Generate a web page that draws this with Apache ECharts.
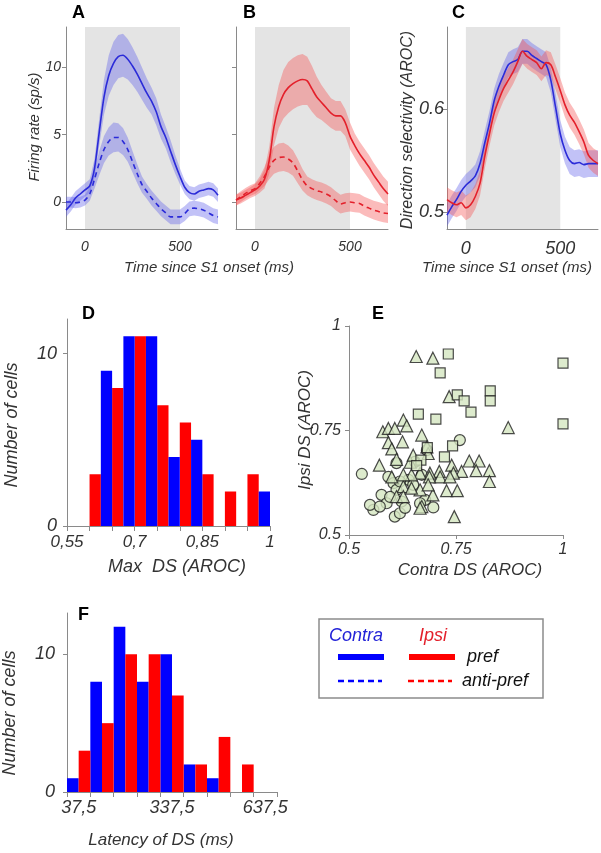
<!DOCTYPE html>
<html><head><meta charset="utf-8">
<script src="https://cdn.jsdelivr.net/npm/echarts@6/dist/echarts.min.js"></script>
<style>html,body{margin:0;padding:0;background:#fff}#c{width:601px;height:853px}</style>
</head><body><div id="c"></div>
<script>
// ---------- DATA ----------
const times = [-100,-75,-50,-25,0,25,50,75,100,125,150,175,200,225,250,275,300,325,350,375,400,425,450,475,500,525,550,575,600,625,650,675,700];

// Panel A (contra) firing rate
const aPrefMean = [-0.6,-0.2,0.3,0.6,0.9,1.2,2.5,5.2,7.8,9.4,10.3,10.8,10.9,10.6,10.1,9.5,8.8,8.1,7.5,6.7,5.6,4.8,3.8,2.8,1.9,1.1,0.7,0.6,0.8,0.9,1.0,0.9,0.5];
const aPrefSem  = [0.5,0.5,0.5,0.5,0.5,0.5,0.7,1.0,1.3,1.5,1.6,1.6,1.6,1.5,1.4,1.3,1.2,1.1,1.0,1.0,0.9,0.8,0.8,0.7,0.6,0.5,0.5,0.5,0.5,0.5,0.5,0.5,0.5];
const aAntiMean = [0.0,0.0,-0.05,0.0,0.15,0.6,1.7,2.9,3.9,4.5,4.8,4.8,4.5,3.9,3.0,2.1,1.3,0.8,0.3,-0.1,-0.5,-0.8,-1.1,-1.1,-1.1,-0.85,-0.5,-0.45,-0.5,-0.6,-0.8,-1.0,-1.1];
const aAntiSem  = [0.4,0.4,0.4,0.4,0.4,0.5,0.7,0.9,1.0,1.05,1.1,1.05,1.0,0.9,0.8,0.7,0.6,0.55,0.55,0.55,0.55,0.55,0.55,0.55,0.55,0.55,0.55,0.55,0.55,0.55,0.55,0.55,0.55];

// Panel B (ipsi) firing rate
const bPrefMean = [0.15,0.3,0.5,0.7,0.9,1.2,1.7,3.1,5.6,7.1,8.0,8.5,8.8,9.0,9.1,9.0,8.4,7.8,7.4,7.0,6.6,6.4,6.4,5.9,4.9,4.2,3.6,3.1,2.6,2.0,1.5,1.0,0.6];
const bPrefSem  = [0.4,0.4,0.4,0.4,0.45,0.5,0.7,1.0,1.4,1.6,1.8,1.9,1.9,1.9,1.9,1.8,1.7,1.5,1.3,1.2,1.1,1.1,1.1,1.0,1.0,0.9,0.9,0.9,0.9,0.9,0.9,0.9,0.9];
const bAntiMean = [0.15,0.4,0.65,0.85,1.0,1.4,1.9,2.6,3.1,3.3,3.35,3.2,2.9,2.3,1.65,1.2,1.0,0.85,0.75,0.6,0.4,0.1,-0.15,-0.05,0.0,-0.05,-0.1,-0.3,-0.45,-0.6,-0.7,-0.8,-0.85];
const bAntiSem  = [0.4,0.4,0.4,0.4,0.4,0.5,0.7,0.9,1.0,1.05,1.05,1.0,0.95,0.9,0.8,0.7,0.7,0.7,0.7,0.7,0.7,0.7,0.7,0.7,0.7,0.7,0.7,0.7,0.7,0.7,0.7,0.7,0.7];

// Panel C direction selectivity
const cContraMean = [0.497,0.505,0.512,0.52,0.526,0.530,0.535,0.547,0.567,0.586,0.608,0.622,0.633,0.643,0.646,0.648,0.656,0.656,0.652,0.649,0.646,0.643,0.628,0.602,0.576,0.560,0.550,0.547,0.548,0.546,0.547,0.547,0.547];
const cContraSem  = [0.011,0.011,0.011,0.011,0.011,0.011,0.011,0.012,0.012,0.012,0.012,0.012,0.012,0.012,0.012,0.012,0.012,0.012,0.012,0.012,0.012,0.012,0.012,0.013,0.013,0.013,0.013,0.013,0.013,0.013,0.013,0.013,0.013];
const cIpsiMean   = [0.512,0.509,0.507,0.509,0.504,0.507,0.515,0.528,0.554,0.576,0.596,0.609,0.620,0.628,0.636,0.646,0.656,0.651,0.648,0.645,0.639,0.645,0.643,0.631,0.618,0.604,0.594,0.587,0.578,0.568,0.555,0.550,0.547];
const cIpsiSem    = [0.012,0.012,0.012,0.012,0.012,0.012,0.012,0.012,0.012,0.012,0.012,0.012,0.012,0.012,0.012,0.012,0.012,0.012,0.012,0.012,0.012,0.012,0.012,0.012,0.012,0.012,0.012,0.012,0.012,0.012,0.012,0.012,0.012];

// Panel D histogram (Max DS)
const dBins = ['0.575','0.625','0.675','0.725','0.775','0.825','0.875','0.925','0.975'];
const dIpsi   = [0,3,8,11,7,6,3,2,3];
const dContra = [0,9,11,11,4,5,0,0,2];
const dTicks  = [0.55,0.6,0.65,0.7,0.75,0.8,0.85,0.9,0.95,1.0];
const dLabels = [0.55,0.7,0.85,1.0];

// Panel E scatter
const eCircles = [[0.530,0.646],[0.759,0.727],[0.557,0.560],[0.549,0.572],[0.576,0.596],[0.588,0.576],[0.572,0.568],[0.607,0.544],[0.619,0.552],[0.697,0.566],[0.592,0.639],[0.604,0.624],[0.611,0.608],[0.623,0.580],[0.639,0.632],[0.650,0.620],[0.678,0.584],[0.666,0.576],[0.611,0.672],[0.619,0.628],[0.682,0.703],[0.654,0.675],[0.670,0.644],[0.596,0.591],[0.631,0.565]];
const eTriangles = [[0.657,0.927],[0.696,0.923],[0.734,0.831],[0.872,0.757],[0.627,0.775],[0.635,0.761],[0.579,0.747],[0.592,0.755],[0.607,0.755],[0.670,0.739],[0.592,0.721],[0.625,0.723],[0.600,0.706],[0.682,0.711],[0.685,0.695],[0.571,0.667],[0.611,0.681],[0.643,0.674],[0.650,0.691],[0.740,0.667],[0.781,0.677],[0.804,0.677],[0.763,0.652],[0.797,0.654],[0.828,0.654],[0.828,0.628],[0.711,0.652],[0.744,0.648],[0.689,0.648],[0.666,0.648],[0.728,0.606],[0.753,0.606],[0.746,0.544],[0.713,0.639],[0.688,0.639],[0.666,0.608],[0.670,0.568],[0.696,0.596],[0.685,0.620],[0.646,0.644],[0.627,0.616],[0.627,0.644],[0.600,0.639],[0.611,0.592],[0.627,0.592],[0.736,0.639],[0.666,0.564],[0.646,0.612]];
const eSquares = [[0.732,0.933],[0.713,0.888],[1.0,0.911],[1.0,0.766],[0.753,0.835],[0.769,0.821],[0.785,0.794],[0.830,0.845],[0.830,0.821],[0.662,0.789],[0.703,0.777],[0.683,0.709],[0.742,0.713],[0.723,0.687],[0.668,0.679],[0.658,0.666]];
const eTicks = [0.5,0.75,1];

// Panel F histogram (latency)
const fBins = ['37,5','112,5','187,5','262,5','337,5','412,5','487,5','562,5','637,5'];
const fContra = [1,8,12,8,10,2,1,0,0];
const fIpsi   = [3,5,10,10,7,2,4,2,0];

// ---------- STYLE ----------
const FF = '"Liberation Sans", Arial, sans-serif';
const BLUE = '#2b2bd8', RED = '#e3202b';
const BLUE_BAND = 'rgba(95,95,235,0.38)', RED_BAND = 'rgba(245,85,85,0.40)';
const AX = '#8a8a8a', TXT = '#333';
const pair = (ys) => times.map((t, i) => [t, ys[i]]);

function band(gi, mean, sem, col) {
  return {type:'custom', coordinateSystem:'cartesian2d', xAxisIndex:gi, yAxisIndex:gi,
    data:[[times[0], mean[0]]], z:2, silent:true,
    renderItem:(params, api) => {
      const up = times.map((t, i) => api.coord([t, mean[i] + sem[i]]));
      const lo = times.map((t, i) => api.coord([t, mean[i] - sem[i]])).reverse();
      return {type:'polygon', shape:{points: up.concat(lo)}, style:{fill: col}};
    }};
}
function line(gi, mean, col, dashed) {
  return {type:'line', xAxisIndex:gi, yAxisIndex:gi, data:pair(mean), smooth:0.3, symbol:'none', z:3, silent:true,
    lineStyle:{color:col, width:1.6, type: dashed ? [5,4] : 'solid'}};
}
function shade(gi) {
  return {type:'line', xAxisIndex:gi, yAxisIndex:gi, data:[], z:1, silent:true,
    markArea:{silent:true, itemStyle:{color:'#e4e4e4'}, data:[[{xAxis:0},{xAxis:500}]]}};
}
function timeX(gi, fs) {
  return {type:'value', gridIndex:gi, min:-100, max:700,
    axisLine:{onZero:false, lineStyle:{color:AX}}, axisTick:{show:false},
    splitLine:{show:false},
    axisLabel:{customValues:[0,500], color:TXT, fontStyle:'italic', fontSize:fs, fontFamily:FF, margin:11}};
}
function valY(gi, min, max, vals, showLab, fs, margin) {
  return {type:'value', gridIndex:gi, min, max,
    axisLine:{show:true, onZero:false, lineStyle:{color:AX}},
    axisTick:{show:true, length:4, customValues:vals, lineStyle:{color:AX}},
    splitLine:{show:false},
    axisLabel:{show:showLab, customValues:vals, color:TXT, fontStyle:'italic', fontSize:fs, fontFamily:FF, margin}};
}
const comma = v => String(+(+v).toFixed(2)).replace('.', ',');
const MARK = {color:'#d5e6c1', borderColor:'#1e1e1e', borderWidth:1.2};

const option = {
  animation:false,
  backgroundColor:'#fff',
  grid:[
    {left:66, top:27, width:152, height:202},
    {left:236, top:27, width:152, height:202},
    {left:447, top:27, width:151, height:202},
    {left:67, top:319, width:203, height:207},
    {left:349, top:326, width:214, height:209},
    {left:67, top:613, width:210, height:179}
  ],
  xAxis:[
    timeX(0,14), timeX(1,14), timeX(2,18),
    {type:'value', gridIndex:3, min:0.55, max:1.0,
      axisLine:{onZero:false, lineStyle:{color:AX}}, splitLine:{show:false},
      axisTick:{show:true, length:5, customValues:dTicks, lineStyle:{color:AX}},
      axisLabel:{customValues:dLabels, formatter:comma, color:TXT, fontStyle:'italic', fontSize:17, fontFamily:FF, margin:8}},
    {type:'category', gridIndex:3, data:dBins, show:false, boundaryGap:true},
    {type:'value', gridIndex:4, min:0.5, max:1,
      axisLine:{onZero:false, lineStyle:{color:AX}}, splitLine:{show:false},
      axisTick:{show:true, length:4, customValues:eTicks, lineStyle:{color:AX}},
      axisLabel:{customValues:eTicks, color:TXT, fontStyle:'italic', fontSize:16, fontFamily:FF, margin:7}},
    {type:'category', gridIndex:5, data:fBins, boundaryGap:true,
      axisLine:{onZero:false, lineStyle:{color:AX}},
      axisTick:{show:true, interval:0, length:5, alignWithLabel:false, lineStyle:{color:AX}},
      axisLabel:{interval:3, color:TXT, fontStyle:'italic', fontSize:18, fontFamily:FF, margin:7}}
  ],
  yAxis:[
    valY(0, -2, 13, [0,5,10], true, 14, 5),
    valY(1, -2, 13, [0,5,10], false, 14, 5),
    valY(2, 0.4835, 0.6796, [0.5,0.6], true, 18, 3),
    valY(3, 0, 12, [0,10], true, 18, 10),
    valY(4, 0.5, 1, eTicks, true, 16, 8),
    valY(5, 0, 13, [0,10], true, 18, 12)
  ],
  series:[
    shade(0),
    band(0,aAntiMean,aAntiSem,BLUE_BAND),
    band(0,aPrefMean,aPrefSem,BLUE_BAND),
    line(0,aAntiMean,BLUE,true), line(0,aPrefMean,BLUE,false),
    shade(1),
    band(1,bAntiMean,bAntiSem,RED_BAND),
    band(1,bPrefMean,bPrefSem,RED_BAND),
    line(1,bAntiMean,RED,true), line(1,bPrefMean,RED,false),
    shade(2),
    band(2,cContraMean,cContraSem,BLUE_BAND),
    band(2,cIpsiMean,cIpsiSem,RED_BAND),
    line(2,cContraMean,BLUE,false), line(2,cIpsiMean,RED,false),
    {type:'bar', xAxisIndex:4, yAxisIndex:3, data:dIpsi, itemStyle:{color:'#ff0000'}, barGap:'0%', barCategoryGap:'0%'},
    {type:'bar', xAxisIndex:4, yAxisIndex:3, data:dContra, itemStyle:{color:'#0000ff'}, barGap:'0%', barCategoryGap:'0%'},
    {type:'scatter', xAxisIndex:5, yAxisIndex:4, data:eCircles, symbol:'circle', symbolSize:11, clip:false, itemStyle:MARK},
    {type:'scatter', xAxisIndex:5, yAxisIndex:4, data:eTriangles, symbol:'triangle', symbolSize:12, clip:false, itemStyle:MARK},
    {type:'scatter', xAxisIndex:5, yAxisIndex:4, data:eSquares, symbol:'rect', symbolSize:10, clip:false, itemStyle:MARK},
    {type:'bar', xAxisIndex:6, yAxisIndex:5, data:fContra, itemStyle:{color:'#0000ff'}, barGap:'0%', barCategoryGap:'0%'},
    {type:'bar', xAxisIndex:6, yAxisIndex:5, data:fIpsi, itemStyle:{color:'#ff0000'}, barGap:'0%', barCategoryGap:'0%'}
  ],
  graphic:[]
};

const G = option.graphic;
function txt(text, x, y, opts) {
  G.push({type:'text', x, y, rotation: opts.rot || 0, silent:true,
    style:{text, fill: opts.color || TXT, fontSize: opts.size || 15, fontFamily: FF,
      fontStyle: opts.bold ? 'normal' : 'italic', fontWeight: opts.bold ? 'bold' : 'normal',
      align: opts.align || 'center', verticalAlign:'middle'}});
}
// panel letters
txt('A', 72, 13, {bold:true, size:18, align:'left', color:'#000'});
txt('B', 243, 13, {bold:true, size:18, align:'left', color:'#000'});
txt('C', 452, 13, {bold:true, size:18, align:'left', color:'#000'});
txt('D', 82, 314, {bold:true, size:18, align:'left', color:'#000'});
txt('E', 372, 314, {bold:true, size:18, align:'left', color:'#000'});
txt('F', 78, 615, {bold:true, size:18, align:'left', color:'#000'});
// axis titles
txt('Time since S1 onset (ms)', 209, 268, {size:15});
txt('Time since S1 onset (ms)', 507, 268, {size:15});
txt('Firing rate (sp/s)', 35, 127, {size:15, rot:Math.PI/2});
txt('Direction selectivity (AROC)', 408, 130, {size:16, rot:Math.PI/2});
txt('Number of cells', 12, 425, {size:18, rot:Math.PI/2});
txt('Max  DS (AROC)', 177, 567, {size:18});
txt('Ipsi DS (AROC)', 305, 430, {size:17, rot:Math.PI/2});
txt('Contra DS (AROC)', 470, 570, {size:17});
txt('Number of cells', 10, 713, {size:18, rot:Math.PI/2});
txt('Latency of DS (ms)', 161, 840, {size:17});
// legend box
G.push({type:'rect', shape:{x:319, y:619, width:224, height:79}, silent:true,
  style:{fill:'rgba(0,0,0,0)', stroke:'#8c8c8c', lineWidth:1.5}});
txt('Contra', 329, 636, {size:18, align:'left', color:'#2323d8'});
txt('Ipsi', 419, 636, {size:18, align:'left', color:'#e3202b'});
G.push({type:'line', shape:{x1:338, y1:657, x2:384, y2:657}, silent:true, style:{stroke:'#0000ff', lineWidth:6}});
G.push({type:'line', shape:{x1:409, y1:657, x2:455, y2:657}, silent:true, style:{stroke:'#ff0000', lineWidth:6}});
txt('pref', 467, 657, {size:18, align:'left', color:'#111'});
G.push({type:'line', shape:{x1:338, y1:681, x2:382, y2:681}, silent:true, style:{stroke:'#0000ff', lineWidth:2.5, lineDash:[6,4]}});
G.push({type:'line', shape:{x1:408, y1:681, x2:452, y2:681}, silent:true, style:{stroke:'#ff0000', lineWidth:2.5, lineDash:[6,4]}});
txt('anti-pref', 462, 681, {size:18, align:'left', color:'#111'});

const chart = echarts.init(document.getElementById('c'), null, {renderer:'canvas', width:601, height:853});
chart.setOption(option);
</script>
</body></html>
